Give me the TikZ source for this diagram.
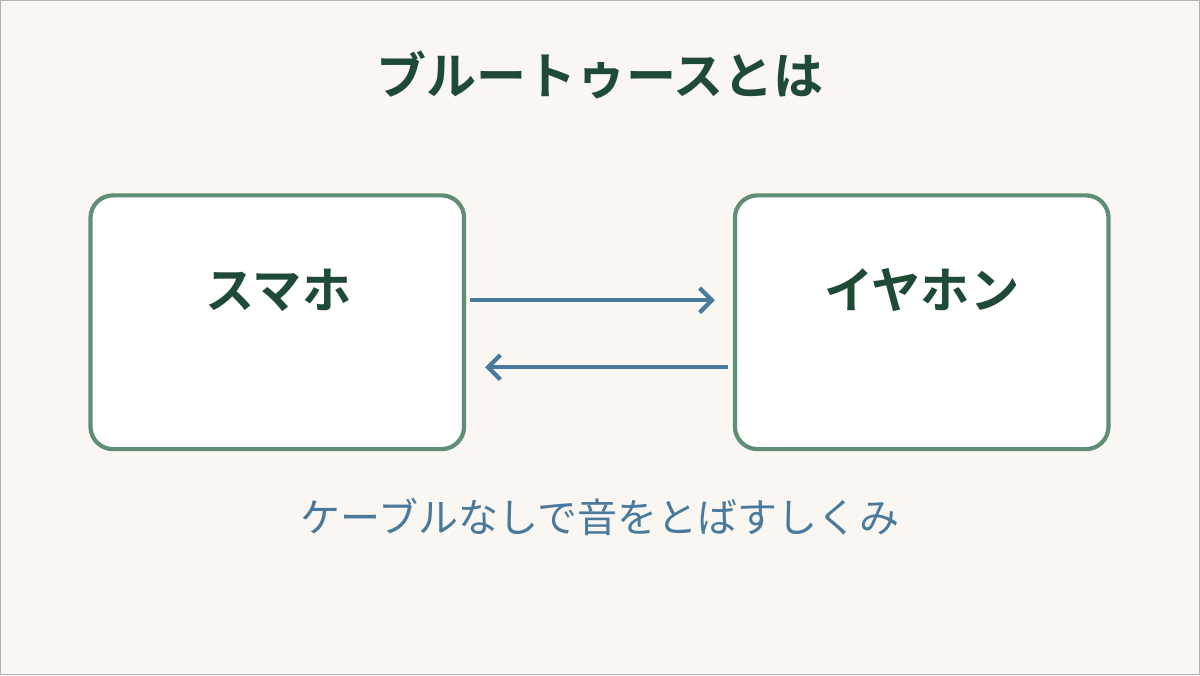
\documentclass[tikz,border=0pt]{standalone}
\usepackage{fontspec}
\newfontfamily\jpfont{Noto Sans CJK JP}
\newfontfamily\jpbold{Noto Sans CJK JP Bold}
\usetikzlibrary{arrows.meta,positioning}
\definecolor{bgcream}{HTML}{FAF7F2}
\definecolor{boxgreen}{HTML}{5E8F74}
\definecolor{darkgreen}{HTML}{1F4A36}
\definecolor{linkblue}{HTML}{4A7A9B}
\tikzset{
  device/.style={draw=boxgreen,line width=2.4pt,fill=white,rounded corners=0.45cm,
    minimum width=7.48cm,minimum height=5.08cm,inner sep=0pt},
  devlabel/.style={font=\jpbold\fontsize{28}{34}\selectfont,text=darkgreen},
  link/.style={draw=linkblue,line width=2.4pt,-{Straight Barb[length=7pt,width=14pt]}}
}
\begin{document}
\begin{tikzpicture}[x=0.02cm,y=-0.02cm]
% background
\fill[bgcream] (0,0) rectangle (1200,675);
\draw[gray!60,line width=0.6pt] (0,0) rectangle (1200,675);
\useasboundingbox (0,0) rectangle (1200,675);

% title
\node[font=\jpbold\fontsize{28.5}{34}\selectfont,text=darkgreen] (title) at (600,75) {ブルートゥースとは};

% devices
\node[device] (phone) at (277,322) {};
\node[device] (buds) at (922,322) {};
\node[devlabel] (phonelabel) at (278,290) {スマホ};
\node[devlabel] (budslabel) at (922,290) {イヤホン};

% links
\coordinate (aout) at (470,300);
\coordinate (ain) at (715,300);
\coordinate (bout) at (728,367);
\coordinate (bin) at (485,367);
\draw[link] (aout) -- (ain);
\draw[link] (bout) -- (bin);

% caption
\node[font=\jpfont\fontsize{22.8}{28}\selectfont,text=linkblue] (caption) at (600,517) {ケーブルなしで音をとばすしくみ};
\end{tikzpicture}
\end{document}
